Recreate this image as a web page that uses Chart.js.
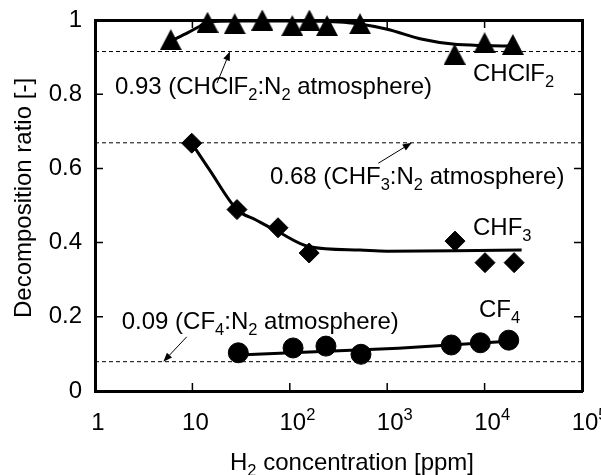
<!DOCTYPE html>
<html>
<head>
<meta charset="utf-8">
<script src="https://cdn.jsdelivr.net/npm/chart.js@4.4.0/dist/chart.umd.min.js"></script>
<style>
    html, body { margin: 0; padding: 0; background: #fff; }
</style>
</head>
<body>
<canvas id="chart" width="601" height="475"></canvas>
<script>
// Values
// CHClF2 (triangles)
const chclf2X = [6.0, 14.3, 27.2, 52.2, 106, 159, 241, 526, 4930, 10000, 19500];
const chclf2Y = [0.947, 0.994, 0.990, 1.000, 0.985, 1.000, 0.985, 0.990, 0.908, 0.939, 0.934];
// CHF3 (diamonds)
const chf3X = [9.84, 28.7, 75.7, 158, 4970, 10100, 20100];
const chf3Y = [0.668, 0.489, 0.440, 0.372, 0.404, 0.346, 0.346];
// CF4 (circles)
const cf4X = [29.6, 108, 235, 538, 4550, 9040, 17700];
const cf4Y = [0.103, 0.116, 0.121, 0.099, 0.124, 0.130, 0.137];

// fitted curves, as drawn in the picture
const chclf2FitX = [6.3, 9, 11.5, 14, 30, 100, 250, 500, 1000, 2300, 4700, 10000, 19000];
const chclf2FitY = [0.946, 0.966, 0.981, 0.994, 0.997, 0.997, 0.996, 0.990, 0.975, 0.948, 0.935, 0.931, 0.930];
const chf3FitX = [9.84, 15, 28.7, 45, 75, 158, 526, 1000, 5000, 24000];
const chf3FitY = [0.668, 0.596, 0.489, 0.461, 0.430, 0.389, 0.380, 0.377, 0.378, 0.380];
const cf4FitX = [29.6, 1300, 17700];
const cf4FitY = [0.097, 0.115, 0.134];

// N2 atmosphere levels (dashed lines)
const refLevels = [0.915, 0.669, 0.079];

// axis ticks
const xTickValues = [1, 10, 100, 1000, 10000, 100000];
const xTickBase = ['1', '10', '10', '10', '10', '10'];
const xTickSup = ['', '', '2', '3', '4', '5'];
const yTickValues = [0, 0.2, 0.4, 0.6, 0.8, 1];

const FONT = '"Liberation Sans", Arial, Helvetica, sans-serif';
const BIG = 24;
const SMALL = 16.5;

// text notes and arrows, placed in data coordinates
const notes = [
    { at: [1.6, 0.800], parts: [['0.93 (CHClF'], ['2', 'sub'], [':N'], ['2', 'sub'], [' atmosphere)']] },
    { at: [7600, 0.836], parts: [['CHClF'], ['2', 'sub']] },
    { at: [62.6, 0.557], parts: [['0.68 (CHF'], ['3', 'sub'], [':N'], ['2', 'sub'], [' atmosphere)']] },
    { at: [7600, 0.420], parts: [['CHF'], ['3', 'sub']] },
    { at: [1.88, 0.167], parts: [['0.09 (CF'], ['4', 'sub'], [':N'], ['2', 'sub'], [' atmosphere)']] },
    { at: [8750, 0.200], parts: [['CF'], ['4', 'sub']] }
];
const arrows = [
    { from: [17.9, 0.830], to: [24.3, 0.915] },
    { from: [811, 0.614], to: [1786, 0.669] },
    { from: [8.74, 0.146], to: [5.03, 0.079] }
];

function pts(xs, ys) {
    return xs.map((x, i) => ({ x: x, y: ys[i] }));
}

// triangle marker, a bit taller than the equilateral built-in one
function triangleMarker(w, h) {
    const c = document.createElement('canvas');
    c.width = w;
    c.height = h;
    const g = c.getContext('2d');
    g.fillStyle = '#000';
    g.beginPath();
    g.moveTo(w / 2, 0);
    g.lineTo(w, h);
    g.lineTo(0, h);
    g.closePath();
    g.fill();
    return c;
}

// draw text with sub/superscripts, starting at x on baseline y
function drawRich(ctx, parts, x, y) {
    ctx.textBaseline = 'alphabetic';
    ctx.textAlign = 'left';
    let cx = x;
    parts.forEach(p => {
        const kind = p[1];
        ctx.font = (kind ? SMALL : BIG) + 'px ' + FONT;
        let dy = 0;
        if (kind === 'sub') dy = 6;
        if (kind === 'sup') dy = -10;
        ctx.fillText(p[0], cx, y + dy);
        cx += ctx.measureText(p[0]).width;
    });
}

const decorPlugin = {
    id: 'decor',
    afterDraw(chart) {
        const ctx = chart.ctx;
        const xs = chart.scales.x;
        const ys = chart.scales.y;
        const area = chart.chartArea;
        ctx.save();
        ctx.fillStyle = '#000';
        ctx.strokeStyle = '#000';

        // inward tick marks on all four sides
        ctx.lineWidth = 1.5;
        ctx.beginPath();
        xTickValues.slice(1, -1).forEach(v => {
            const px = xs.getPixelForValue(v);
            ctx.moveTo(px, area.bottom);
            ctx.lineTo(px, area.bottom - 8);
            ctx.moveTo(px, area.top);
            ctx.lineTo(px, area.top + 8);
        });
        yTickValues.slice(1, -1).forEach(v => {
            const py = ys.getPixelForValue(v);
            ctx.moveTo(area.left, py);
            ctx.lineTo(area.left + 8, py);
            ctx.moveTo(area.right, py);
            ctx.lineTo(area.right - 8, py);
        });
        ctx.stroke();

        // x tick labels with superscripts
        xTickValues.forEach((v, i) => {
            const px = xs.getPixelForValue(v) + 3;
            ctx.font = BIG + 'px ' + FONT;
            const w = ctx.measureText(xTickBase[i]).width;
            drawRich(ctx, [[xTickBase[i]], [xTickSup[i], 'sup']], px - w / 2, 430);
        });

        // axis titles
        ctx.font = BIG + 'px ' + FONT;
        const t1 = ctx.measureText('H').width;
        ctx.font = SMALL + 'px ' + FONT;
        const t2 = ctx.measureText('2').width;
        ctx.font = BIG + 'px ' + FONT;
        const t3 = ctx.measureText(' concentration [ppm]').width;
        drawRich(ctx, [['H'], ['2', 'sub'], [' concentration [ppm]']], 352 - (t1 + t2 + t3) / 2, 470);

        ctx.save();
        ctx.translate(31, 198);
        ctx.rotate(-Math.PI / 2);
        ctx.font = BIG + 'px ' + FONT;
        ctx.textAlign = 'center';
        ctx.textBaseline = 'alphabetic';
        ctx.fillText('Decomposition ratio [-]', 0, 0);
        ctx.restore();

        // notes
        notes.forEach(n => {
            drawRich(ctx, n.parts, xs.getPixelForValue(n.at[0]), ys.getPixelForValue(n.at[1]));
        });

        // arrows
        ctx.lineWidth = 1;
        arrows.forEach(a => {
            const x1 = xs.getPixelForValue(a.from[0]);
            const y1 = ys.getPixelForValue(a.from[1]);
            const x2 = xs.getPixelForValue(a.to[0]);
            const y2 = ys.getPixelForValue(a.to[1]);
            const ang = Math.atan2(y2 - y1, x2 - x1);
            const len = 9, half = 3.5;
            const bx = x2 - Math.cos(ang) * len;
            const by = y2 - Math.sin(ang) * len;
            ctx.beginPath();
            ctx.moveTo(x1, y1);
            ctx.lineTo(bx, by);
            ctx.stroke();
            ctx.beginPath();
            ctx.moveTo(x2, y2);
            ctx.lineTo(bx + Math.sin(ang) * half, by - Math.cos(ang) * half);
            ctx.lineTo(bx - Math.sin(ang) * half, by + Math.cos(ang) * half);
            ctx.closePath();
            ctx.fill();
        });
        ctx.restore();
    }
};

Chart.defaults.font.family = FONT;
Chart.defaults.font.size = BIG;
Chart.defaults.color = '#000';

const refDatasets = refLevels.map(v => ({
    type: 'line',
    data: [{ x: 1, y: v }, { x: 100000, y: v }],
    borderColor: '#000',
    borderWidth: 1,
    borderDash: [4, 3],
    pointRadius: 0
}));

function fitLine(xs, ys, smooth) {
    return {
        type: 'line',
        data: pts(xs, ys),
        borderColor: '#000',
        borderWidth: 3,
        pointRadius: 0,
        cubicInterpolationMode: smooth ? 'monotone' : 'default',
        tension: 0,
        clip: false
    };
}

function markers(xs, ys, style, radius) {
    return {
        type: 'scatter',
        data: pts(xs, ys),
        pointStyle: style,
        pointRadius: radius,
        pointBackgroundColor: '#000',
        pointBorderColor: '#000',
        pointBorderWidth: 1,
        showLine: false,
        clip: false
    };
}

const ctx = document.getElementById('chart');
new Chart(ctx, {
    type: 'scatter',
    data: {
        datasets: [
            ...refDatasets,
            fitLine(chclf2FitX, chclf2FitY, true),
            fitLine(chf3FitX, chf3FitY, true),
            fitLine(cf4FitX, cf4FitY, false),
            markers(chclf2X, chclf2Y, triangleMarker(22, 21), 11),
            markers(chf3X, chf3Y, 'rectRot', 10),
            markers(cf4X, cf4Y, 'circle', 10)
        ]
    },
    options: {
        responsive: false,
        animation: false,
        layout: { padding: 0 },
        plugins: {
            legend: { display: false },
            tooltip: { enabled: false }
        },
        scales: {
            x: {
                type: 'logarithmic',
                position: 'bottom',
                min: 1,
                max: 100000,
                afterBuildTicks: s => { s.ticks = xTickValues.map(v => ({ value: v })); },
                ticks: { display: false },
                grid: { display: false, drawTicks: false },
                border: { color: '#000', width: 3 },
                afterFit: s => { s.height = 84; s.paddingLeft = 0; s.paddingRight = 0; }
            },
            x2: {
                type: 'logarithmic',
                position: 'top',
                min: 1,
                max: 100000,
                ticks: { display: false },
                grid: { display: false, drawTicks: false },
                border: { color: '#000', width: 3 },
                afterFit: s => { s.height = 20; s.paddingLeft = 0; s.paddingRight = 0; }
            },
            y: {
                type: 'linear',
                position: 'left',
                min: 0,
                max: 1,
                afterBuildTicks: s => { s.ticks = yTickValues.map(v => ({ value: v })); },
                ticks: { padding: 13, font: { size: BIG }, callback: v => String(v) },
                grid: { display: false, drawTicks: false },
                border: { color: '#000', width: 3 },
                afterFit: s => { s.width = 95; s.paddingTop = 0; s.paddingBottom = 0; }
            },
            y2: {
                type: 'linear',
                position: 'right',
                min: 0,
                max: 1,
                ticks: { display: false },
                grid: { display: false, drawTicks: false },
                border: { color: '#000', width: 3 },
                afterFit: s => { s.width = 19; s.paddingTop = 0; s.paddingBottom = 0; }
            }
        }
    },
    plugins: [decorPlugin]
});
</script>
</body>
</html>
